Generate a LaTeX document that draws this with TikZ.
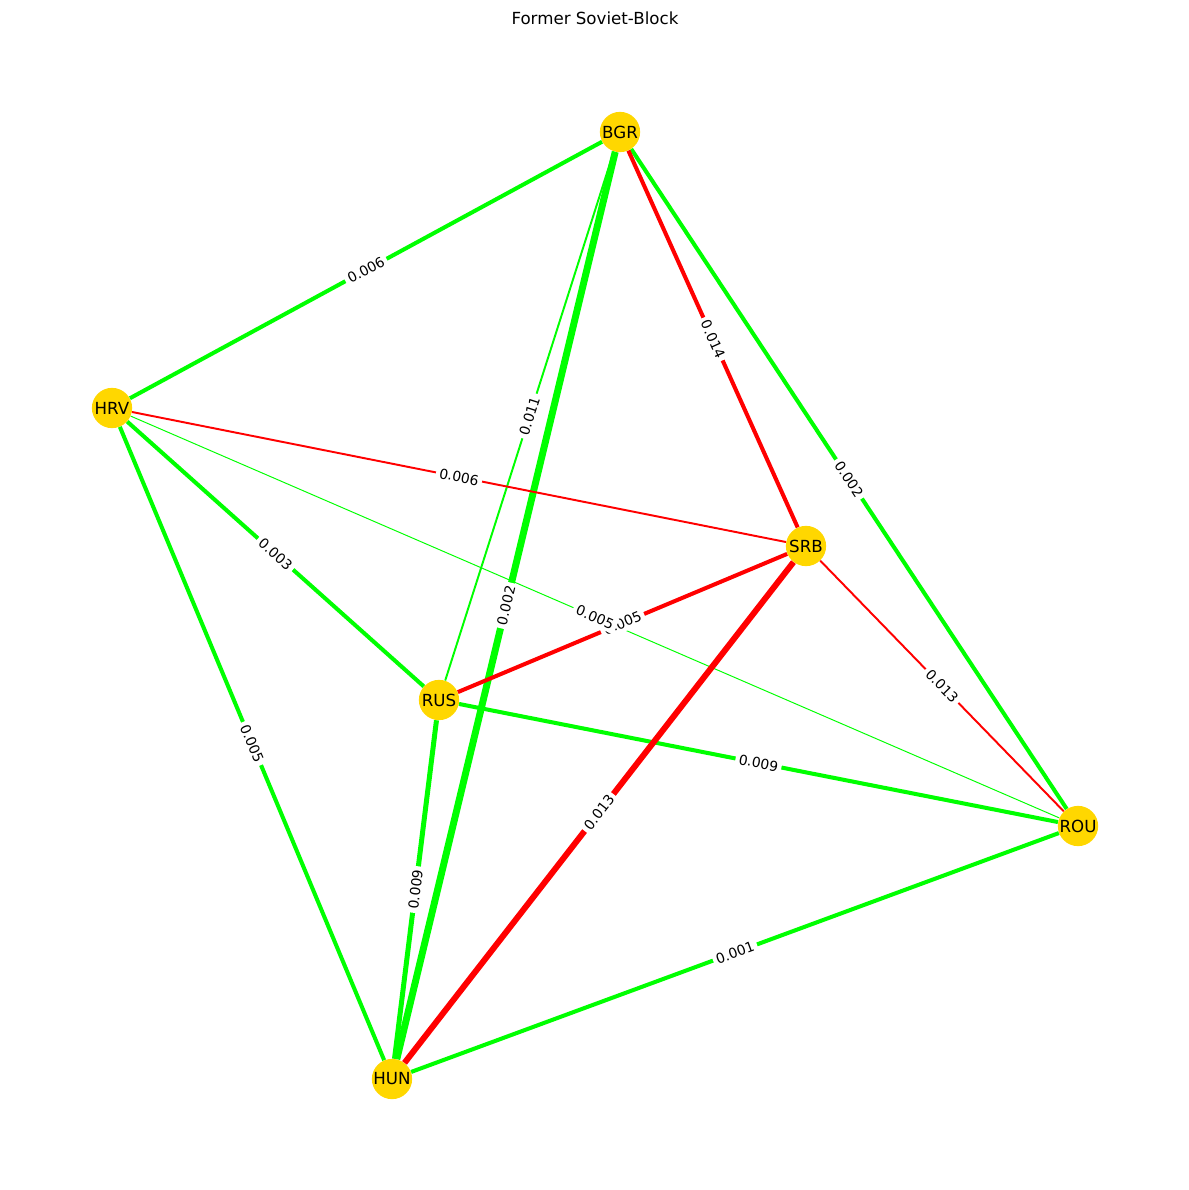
\documentclass[tikz,border=0pt]{standalone}
\usepackage{fontspec}
\setmainfont{DejaVu Sans}
\usepackage{tikz}
\usetikzlibrary{positioning}
\definecolor{nodegold}{HTML}{FFD700}
\definecolor{posgreen}{HTML}{00FF00}
\definecolor{negred}{HTML}{FF0000}

\begin{document}
\begin{tikzpicture}[x=0.72pt,y=-0.72pt,
    country/.style={circle,fill=nodegold,minimum size=29pt,inner sep=0pt,font=\fontsize{12}{14}\selectfont},
    lab/.style={fill=white,rounded corners=2pt,inner sep=2.5pt,font=\fontsize{10}{12}\selectfont,sloped,midway},
    posedge/.style={draw=posgreen},
    negedge/.style={draw=negred}]

    \useasboundingbox (0,0) rectangle (1189,1190);
    \node at (595,18) (title) {\fontsize{12}{14}\selectfont Former Soviet-Block};

    % The countries
    \node [country] at (620,132) (BGR) {BGR};
    \node [country] at (112,408) (HRV) {HRV};
    \node [country] at (806,546) (SRB) {SRB};
    \node [country] at (439,700) (RUS) {RUS};
    \node [country] at (1078,826) (ROU) {ROU};
    \node [country] at (392,1079) (HUN) {HUN};

    % Graph edges
    \path[posedge,line width=2.9pt]
    (BGR) edge (HRV)
    (BGR) edge (ROU)
    (HRV) edge (RUS)
    (HRV) edge (HUN)
    (RUS) edge (ROU)
    (HUN) edge (ROU)
    ;
    \path[posedge,line width=1.4pt] (BGR) edge (RUS);
    \path[posedge,line width=0.7pt] (HRV) edge (ROU);
    \path[posedge,line width=3.6pt] (RUS) edge (HUN);
    \path[posedge,line width=5pt] (BGR) edge (HUN);

    \path[negedge,line width=2.9pt]
    (BGR) edge (SRB)
    (SRB) edge (RUS)
    ;
    \path[negedge,line width=1.4pt]
    (HRV) edge (SRB)
    (SRB) edge (ROU)
    ;
    \path[negedge,line width=4.3pt] (SRB) edge (HUN);

    % Edge labels
    \path (BGR) -- (HRV) node[lab] {0.006};
    \path (BGR) -- (SRB) node[lab] {0.014};
    \path (BGR) -- (ROU) node[lab] {0.002};
    \path (BGR) -- (RUS) node[lab] {0.011};
    \path (BGR) -- (HUN) node[lab] {0.002};
    \path (HRV) -- (SRB) node[lab] {0.006};
    \path (HRV) -- (RUS) node[lab] {0.003};
    \path (HRV) -- (HUN) node[lab] {0.005};
    \path (SRB) -- (RUS) node[lab] {0.005};
    \path (HRV) -- (ROU) node[lab] {0.005};
    \path (SRB) -- (ROU) node[lab] {0.013};
    \path (SRB) -- (HUN) node[lab] {0.013};
    \path (RUS) -- (ROU) node[lab] {0.009};
    \path (RUS) -- (HUN) node[lab] {0.009};
    \path (HUN) -- (ROU) node[lab] {0.001};

\end{tikzpicture}
\end{document}
